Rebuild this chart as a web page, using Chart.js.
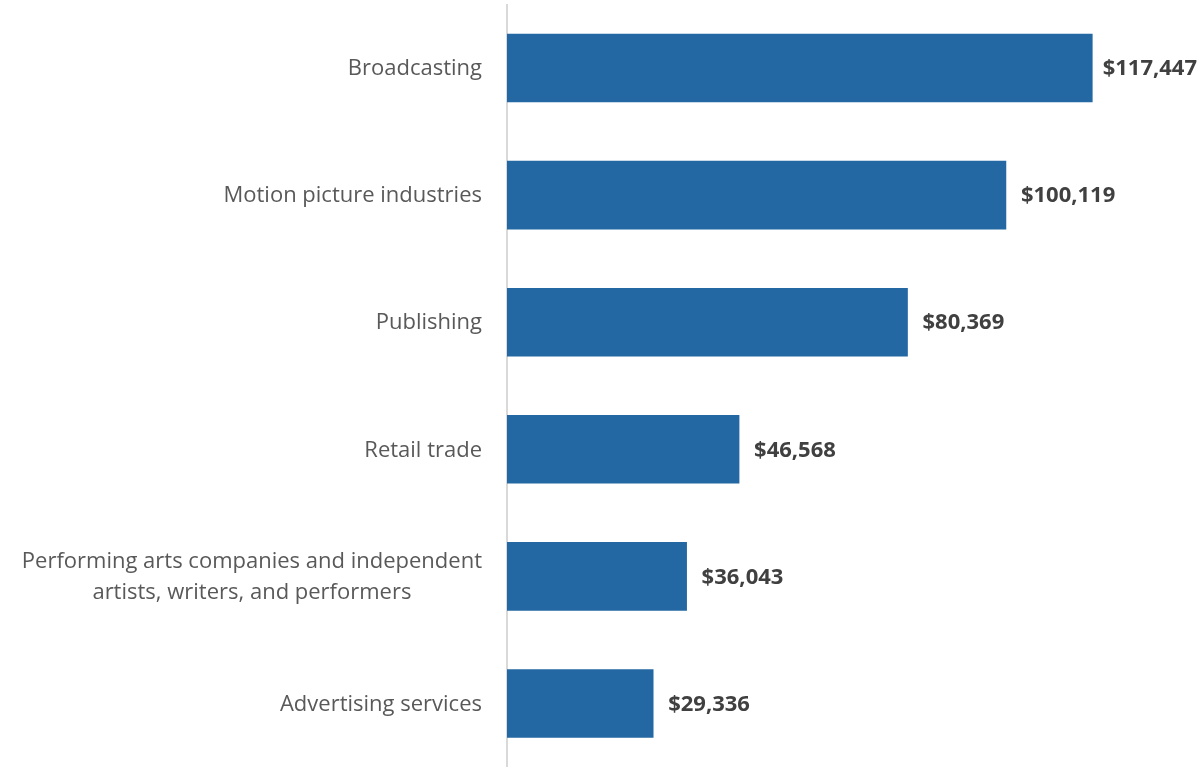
<!DOCTYPE html>
<html>
<head>
<meta charset="utf-8">
<script src="https://cdn.jsdelivr.net/npm/chart.js@4/dist/chart.umd.min.js"></script>
<style>
  html, body { margin: 0; padding: 0; background: #ffffff; }
  #wrap { width: 1202px; height: 767px; position: relative; }
</style>
</head>
<body>
<div id="wrap"><canvas id="chart" width="1202" height="767"></canvas></div>
<script>
// Average annual wages by industry
const categories = [
  'Broadcasting',
  'Motion picture industries',
  'Publishing',
  'Retail trade',
  ['Performing arts companies and independent', 'artists, writers, and performers'],
  'Advertising services'
];
const wages = [117447, 100119, 80369, 46568, 36043, 29336];

const FONT = '"Open Sans", "Liberation Sans", sans-serif';
const BAR_COLOR = '#2368a2';
const LABEL_GAP = 25;     // space between category text and the axis line
const LINE_HEIGHT = 31;   // for wrapped category names

const fmt = v => '$' + v.toLocaleString('en-US');

// Category names to the left of the axis; wrapped names are centred line by line
const categoryLabels = {
  id: 'categoryLabels',
  afterDraw(chart) {
    const ctx = chart.ctx;
    const yScale = chart.scales.y;
    const right = chart.chartArea.left - LABEL_GAP;
    ctx.save();
    ctx.font = '22px ' + FONT;
    ctx.fillStyle = '#595959';
    ctx.textBaseline = 'middle';
    ctx.textAlign = 'center';
    categories.forEach((label, i) => {
      const lines = Array.isArray(label) ? label : [label];
      const widths = lines.map(l => ctx.measureText(l).width);
      const blockW = Math.max(...widths);
      const cx = right - blockW / 2;
      const yc = yScale.getPixelForValue(i) + 1;
      const y0 = yc - (lines.length - 1) * LINE_HEIGHT / 2;
      lines.forEach((l, j) => ctx.fillText(l, cx, y0 + j * LINE_HEIGHT));
    });
    ctx.restore();
  }
};

// Writes the dollar amount to the right of each bar
const valueLabels = {
  id: 'valueLabels',
  afterDatasetsDraw(chart) {
    const ctx = chart.ctx;
    const meta = chart.getDatasetMeta(0);
    ctx.save();
    ctx.font = 'bold 22px ' + FONT;
    ctx.fillStyle = '#404040';
    ctx.textAlign = 'left';
    ctx.textBaseline = 'middle';
    meta.data.forEach((bar, i) => {
      const text = fmt(wages[i]);
      const w = ctx.measureText(text).width;
      let x = bar.x + 15;
      const maxX = chart.width - 5 - w;
      if (x > maxX) x = maxX;
      ctx.fillText(text, x, bar.y + 1);
    });
    ctx.restore();
  }
};

new Chart(document.getElementById('chart'), {
  type: 'bar',
  data: {
    labels: categories,
    datasets: [{
      data: wages,
      backgroundColor: BAR_COLOR,
      borderWidth: 0,
      barThickness: 68
    }]
  },
  options: {
    indexAxis: 'y',
    responsive: false,
    animation: false,
    layout: { padding: { left: 0, right: 97, top: 4.5, bottom: -2.5 } },
    plugins: {
      legend: { display: false },
      tooltip: { enabled: false }
    },
    scales: {
      x: {
        display: false,
        min: 0,
        max: 120000
      },
      y: {
        afterFit(scale) {
          scale.width = 507;
          scale.paddingTop = 0;
          scale.paddingBottom = 0;
        },
        grid: { display: false, drawTicks: false },
        border: { display: true, color: '#d9d9d9', width: 2 },
        ticks: { display: false }
      }
    }
  },
  plugins: [valueLabels, categoryLabels]
});
</script>
</body>
</html>
